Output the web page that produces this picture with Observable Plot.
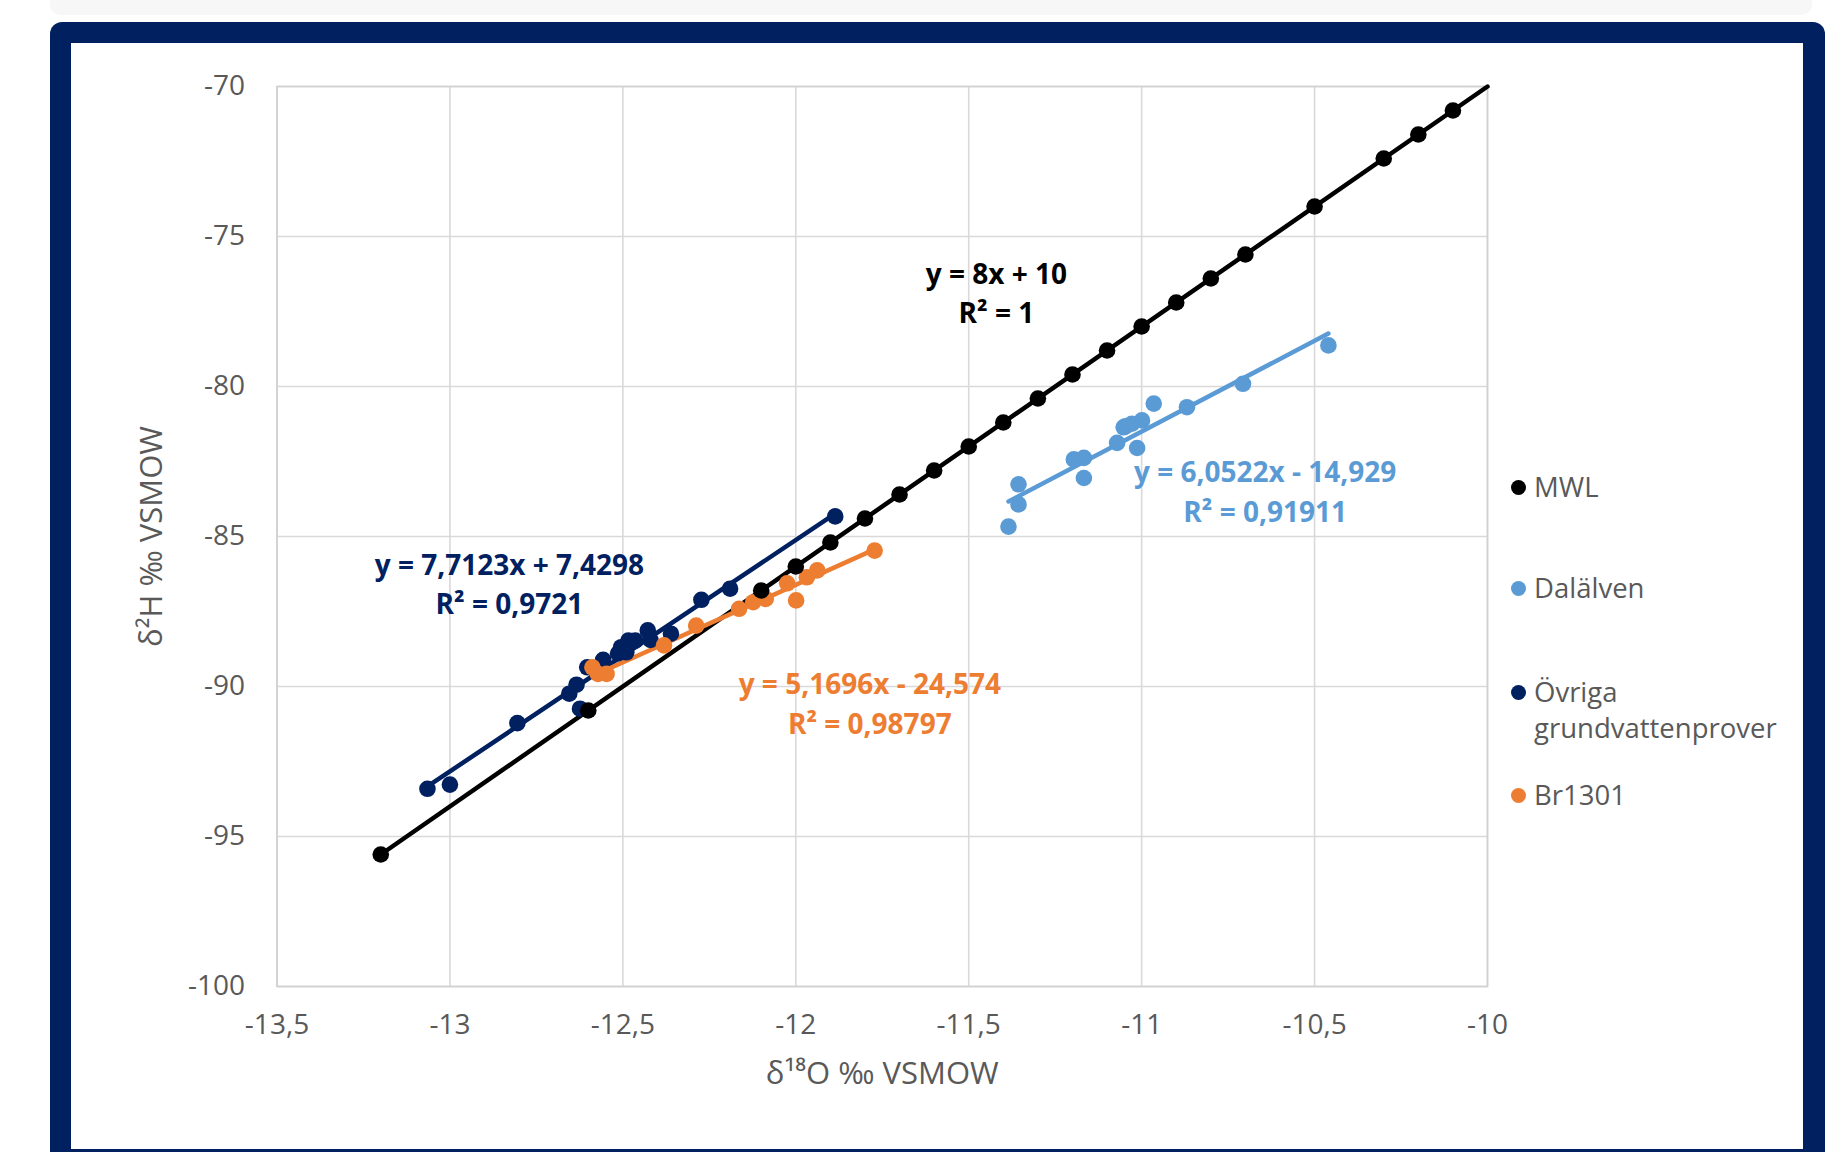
<!DOCTYPE html>
<html><head><meta charset="utf-8">
<script src="https://cdn.jsdelivr.net/npm/d3@7"></script>
<script src="https://cdn.jsdelivr.net/npm/@observablehq/plot@0.6"></script>
<style>
html,body{margin:0;padding:0;overflow:hidden;background:#fff;width:1845px;height:1152px;}
body{font-family:"Open Sans",sans-serif;position:relative;}
#strip{position:absolute;left:50px;top:0;width:1762px;height:15px;background:#f7f7f7;border-radius:0 0 10px 10px;}
#frame{position:absolute;left:50px;top:22px;width:1775px;height:1130px;background:#012060;border-radius:12px 12px 0 0;}
#panel{position:absolute;left:71px;top:43px;width:1732px;height:1106px;background:#fff;}
#chart{position:absolute;left:71px;top:43px;}
.lg-dot{position:absolute;width:15px;height:15px;border-radius:50%;}
.lg-text{position:absolute;width:265px;font-size:27.5px;line-height:36px;color:#595959;}
</style>
</head><body>
<div id="strip"></div><div id="frame"></div><div id="panel"></div>
<div id="chart"></div>
<div id="legend"></div>
<script>
// ---- data ----
const seriesNames = ["MWL", "Dalälven", "Övriga grundvattenprover", "Br1301"];
const seriesColors = ["#000000", "#5B9BD5", "#002060", "#ED7D31"];

const mwlX = [-13.2, -12.6, -12.1, -12.0, -11.9, -11.8, -11.7, -11.6, -11.5, -11.4, -11.3, -11.2, -11.1, -11.0, -10.9, -10.8, -10.7, -10.5, -10.3, -10.2, -10.1];
const mwlY = [-95.6, -90.8, -86.8, -86.0, -85.2, -84.4, -83.6, -82.8, -82.0, -81.2, -80.4, -79.6, -78.8, -78.0, -77.2, -76.4, -75.6, -74.0, -72.4, -71.6, -70.8];

const dalX = [-11.385, -11.356, -11.356, -11.196, -11.167, -11.167, -11.071, -11.052, -11.047, -11.028, -10.999, -11.013, -10.965, -10.869, -10.707, -10.460];
const dalY = [-84.67, -83.93, -83.26, -82.43, -82.38, -83.05, -81.88, -81.36, -81.33, -81.24, -81.13, -82.05, -80.57, -80.69, -79.91, -78.63];

const ovrX = [-13.065, -13.0, -12.805, -12.655, -12.634, -12.624, -12.603, -12.557, -12.514, -12.505, -12.49, -12.484, -12.464, -12.428, -12.42, -12.361, -12.273, -12.19, -11.886];
const ovrY = [-93.41, -93.27, -91.22, -90.24, -89.94, -90.74, -89.36, -89.11, -88.9, -88.69, -88.86, -88.47, -88.47, -88.13, -88.45, -88.24, -87.11, -86.74, -84.33];

const brX = [-12.588, -12.572, -12.547, -12.381, -12.288, -12.164, -12.123, -12.087, -12.025, -11.999, -11.968, -11.938, -11.772];
const brY = [-89.36, -89.58, -89.58, -88.63, -87.97, -87.41, -87.19, -87.08, -86.56, -87.13, -86.36, -86.13, -85.47];

// linear trend lines (Excel labels)
const trendSlope = [8, 6.0522, 7.7123, 5.1696];
const trendIntercept = [10, -14.929, 7.4298, -24.574];
const trendForward = [0.1, 0, 0, 0];
const trendLabels = ["y = 8x + 10\nR² = 1", "y = 6,0522x - 14,929\nR² = 0,91911", "y = 7,7123x + 7,4298\nR² = 0,9721", "y = 5,1696x - 24,574\nR² = 0,98797"];
const trendLabelX = [-11.42, -10.643, -12.828, -11.786];
const trendLabelY = [-76.82, -83.43, -86.52, -90.5];

const xTicks = [-13.5, -13, -12.5, -12, -11.5, -11, -10.5, -10];
const yTicks = [-100, -95, -90, -85, -80, -75, -70];

// ---- build tables ----
const xs = [mwlX, dalX, ovrX, brX];
const ys = [mwlY, dalY, ovrY, brY];
const points = [];
seriesNames.forEach((s, i) => xs[i].forEach((x, j) => points.push({series: s, x, y: ys[i][j]})));
const trendRows = [];
seriesNames.forEach((s, i) => {
  const x0 = d3.min(xs[i]), x1 = d3.max(xs[i]) + trendForward[i];
  [x0, x1].forEach(x => trendRows.push({series: s, x, y: trendSlope[i] * x + trendIntercept[i]}));
});
const labelRows = seriesNames.map((s, i) => ({series: s, text: trendLabels[i], x: trendLabelX[i], y: trendLabelY[i]}));
const fmt = d => String(d).replace(".", ",");
const dotOrder = [2, 3, 1, 0];
const bySeries = s => points.filter(p => p.series === s);

const chart = Plot.plot({
  width: 1436,
  height: 1073,
  marginLeft: 205.5,
  marginRight: 20,
  marginTop: 43,
  marginBottom: 130,
  style: {fontFamily: "Open Sans", fontSize: "28px", color: "#595959", background: "transparent", overflow: "visible"},
  x: {domain: [-13.5, -10]},
  y: {domain: [-100, -70]},
  color: {domain: seriesNames, range: seriesColors},
  marks: [
    Plot.gridX(xTicks, {stroke: "#d9d9d9", strokeOpacity: 1, strokeWidth: 1.6}),
    Plot.gridY(yTicks, {stroke: "#d9d9d9", strokeOpacity: 1, strokeWidth: 1.6}),
    Plot.frame({stroke: "#d0d0d0", strokeWidth: 1.6}),
    Plot.axisX(xTicks, {tickSize: 0, tickPadding: 28, tickFormat: fmt, fontSize: 28, fill: "#595959", label: null}),
    Plot.axisY(yTicks, {tickSize: 0, tickPadding: 32, tickFormat: fmt, fontSize: 28, fill: "#595959", label: null}),
    Plot.text(["δ¹⁸O ‰ VSMOW"], {frameAnchor: "bottom", dy: 88, fontSize: 31, fill: "#595959", lineAnchor: "middle", textAnchor: "middle"}),
    Plot.text(["δ²H ‰ VSMOW"], {frameAnchor: "left", dx: -125, rotate: -90, fontSize: 31, fill: "#595959", lineAnchor: "middle", textAnchor: "middle"}),
    Plot.line(trendRows, {x: "x", y: "y", z: "series", stroke: "series", strokeWidth: 4.5}),
    ...dotOrder.map(i => Plot.dot(bySeries(seriesNames[i]), {x: "x", y: "y", fill: "series", r: 8.3})),
    Plot.text(labelRows, {x: "x", y: "y", text: "text", fill: "series", fontWeight: "bold", fontSize: 28, lineHeight: 1.4, lineAnchor: "middle"})
  ]
});
document.getElementById("chart").appendChild(chart);

// ---- legend ----
const legendCenters = [487, 588, 692, 795];
const legend = document.getElementById("legend");
seriesNames.forEach((s, i) => {
  const dot = document.createElement("div");
  dot.className = "lg-dot";
  dot.style.background = seriesColors[i];
  dot.style.left = "1511px";
  dot.style.top = (legendCenters[i] - 7.5) + "px";
  legend.appendChild(dot);
  const t = document.createElement("div");
  t.className = "lg-text";
  t.textContent = s;
  t.style.left = "1534px";
  t.style.top = (legendCenters[i] - 18) + "px";
  legend.appendChild(t);
});
</script>
</body></html>
